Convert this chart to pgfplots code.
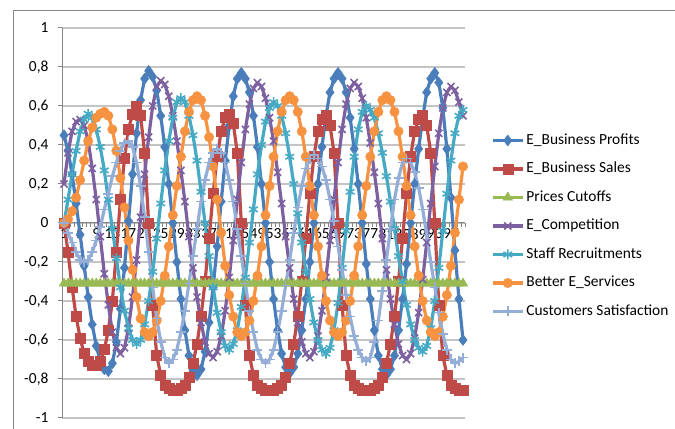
\documentclass[border=0pt]{standalone}
\usepackage{fontspec}
\setmainfont{Carlito}
\usepackage{pgfplots}
\usepackage{pgfplotstable}
\pgfplotsset{compat=1.18}
\definecolor{cB}{HTML}{4A7EBB}
\definecolor{cR}{HTML}{BE4B48}
\definecolor{cG}{HTML}{98B954}
\definecolor{cP}{HTML}{7D60A0}
\definecolor{cT}{HTML}{46AAC5}
\definecolor{cO}{HTML}{F69240}
\definecolor{cL}{HTML}{94AED8}
\definecolor{axgray}{RGB}{134,134,134}
\definecolor{gridgray}{RGB}{196,196,196}

\pgfplotstableread{
x b r g p t o l
1 0.45 0.00 -0.31 0.20 0.00 0.00 0.00
2 0.37 -0.15 -0.31 0.36 0.12 0.02 -0.05
3 0.25 -0.33 -0.31 0.47 0.25 0.06 -0.10
4 0.10 -0.48 -0.31 0.52 0.37 0.13 -0.15
5 -0.06 -0.59 -0.31 0.53 0.47 0.22 -0.19
6 -0.22 -0.67 -0.31 0.50 0.53 0.32 -0.20
7 -0.38 -0.71 -0.31 0.42 0.56 0.42 -0.19
8 -0.52 -0.73 -0.31 0.28 0.54 0.49 -0.15
9 -0.63 -0.73 -0.31 0.12 0.48 0.54 -0.09
10 -0.71 -0.71 -0.31 -0.07 0.39 0.56 -0.02
11 -0.75 -0.65 -0.31 -0.26 0.27 0.57 0.07
12 -0.76 -0.55 -0.31 -0.42 0.12 0.55 0.15
13 -0.72 -0.40 -0.31 -0.56 -0.03 0.48 0.24
14 -0.61 -0.15 -0.31 -0.64 -0.18 0.37 0.31
15 -0.44 0.12 -0.31 -0.67 -0.33 0.23 0.37
16 -0.23 0.33 -0.31 -0.64 -0.45 0.08 0.41
17 0.01 0.48 -0.31 -0.54 -0.54 -0.09 0.42
18 0.25 0.56 -0.31 -0.38 -0.60 -0.24 0.39
19 0.46 0.60 -0.31 -0.19 -0.62 -0.38 0.31
20 0.63 0.55 -0.31 0.03 -0.60 -0.49 0.19
21 0.74 0.36 -0.31 0.25 -0.52 -0.56 0.03
22 0.78 0.00 -0.31 0.44 -0.40 -0.58 -0.15
23 0.75 -0.42 -0.31 0.60 -0.25 -0.56 -0.33
24 0.68 -0.68 -0.31 0.70 -0.08 -0.50 -0.49
25 0.55 -0.78 -0.31 0.73 0.10 -0.40 -0.61
26 0.39 -0.83 -0.31 0.71 0.27 -0.27 -0.69
27 0.20 -0.85 -0.31 0.65 0.42 -0.12 -0.72
28 0.00 -0.86 -0.31 0.55 0.54 0.04 -0.70
29 -0.20 -0.86 -0.31 0.42 0.62 0.19 -0.65
30 -0.39 -0.85 -0.31 0.27 0.64 0.34 -0.56
31 -0.55 -0.83 -0.31 0.11 0.62 0.47 -0.45
32 -0.68 -0.79 -0.31 -0.07 0.55 0.57 -0.31
33 -0.75 -0.72 -0.31 -0.23 0.45 0.63 -0.17
34 -0.78 -0.62 -0.31 -0.38 0.32 0.65 -0.03
35 -0.75 -0.48 -0.31 -0.51 0.16 0.63 0.11
36 -0.66 -0.30 -0.31 -0.61 0.00 0.55 0.22
37 -0.51 -0.08 -0.31 -0.67 -0.17 0.44 0.31
38 -0.33 0.15 -0.31 -0.69 -0.33 0.29 0.36
39 -0.12 0.34 -0.31 -0.66 -0.46 0.12 0.38
40 0.11 0.47 -0.31 -0.58 -0.56 -0.05 0.36
41 0.32 0.54 -0.31 -0.45 -0.63 -0.22 0.31
42 0.50 0.56 -0.31 -0.28 -0.65 -0.37 0.22
43 0.65 0.51 -0.31 -0.09 -0.62 -0.48 0.11
44 0.74 0.36 -0.31 0.12 -0.55 -0.56 -0.03
45 0.77 0.00 -0.31 0.31 -0.43 -0.58 -0.17
46 0.74 -0.42 -0.31 0.48 -0.28 -0.56 -0.31
47 0.67 -0.68 -0.31 0.61 -0.10 -0.50 -0.45
48 0.55 -0.78 -0.31 0.69 0.07 -0.40 -0.56
49 0.39 -0.83 -0.31 0.72 0.25 -0.27 -0.65
50 0.20 -0.85 -0.31 0.70 0.40 -0.12 -0.70
51 0.00 -0.86 -0.31 0.64 0.52 0.04 -0.72
52 -0.20 -0.86 -0.31 0.54 0.59 0.19 -0.70
53 -0.39 -0.86 -0.31 0.42 0.62 0.34 -0.65
54 -0.55 -0.85 -0.31 0.26 0.60 0.47 -0.56
55 -0.67 -0.83 -0.31 0.10 0.55 0.57 -0.45
56 -0.74 -0.79 -0.31 -0.07 0.46 0.63 -0.32
57 -0.77 -0.72 -0.31 -0.23 0.34 0.65 -0.19
58 -0.74 -0.62 -0.31 -0.39 0.20 0.63 -0.05
59 -0.67 -0.48 -0.31 -0.51 0.05 0.57 0.08
60 -0.55 -0.30 -0.31 -0.61 -0.10 0.47 0.19
61 -0.39 -0.08 -0.31 -0.67 -0.25 0.34 0.28
62 -0.20 0.15 -0.31 -0.69 -0.39 0.19 0.33
63 0.00 0.34 -0.31 -0.66 -0.51 0.04 0.35
64 0.20 0.47 -0.31 -0.58 -0.60 -0.12 0.33
65 0.39 0.53 -0.31 -0.45 -0.65 -0.27 0.29
66 0.55 0.55 -0.31 -0.28 -0.67 -0.40 0.22
67 0.67 0.50 -0.31 -0.09 -0.64 -0.50 0.12
68 0.74 0.36 -0.31 0.12 -0.55 -0.56 0.01
69 0.77 0.00 -0.31 0.31 -0.41 -0.58 -0.12
70 0.74 -0.42 -0.31 0.48 -0.23 -0.56 -0.24
71 0.67 -0.68 -0.31 0.61 -0.04 -0.50 -0.37
72 0.54 -0.78 -0.31 0.69 0.16 -0.40 -0.48
73 0.38 -0.83 -0.31 0.72 0.34 -0.27 -0.58
74 0.20 -0.85 -0.31 0.70 0.48 -0.12 -0.65
75 0.00 -0.86 -0.31 0.64 0.57 0.04 -0.69
76 -0.21 -0.86 -0.31 0.54 0.60 0.19 -0.71
77 -0.39 -0.86 -0.31 0.41 0.58 0.34 -0.69
78 -0.55 -0.85 -0.31 0.26 0.54 0.47 -0.61
79 -0.68 -0.83 -0.31 0.10 0.46 0.57 -0.50
80 -0.75 -0.79 -0.31 -0.08 0.36 0.63 -0.35
81 -0.78 -0.72 -0.31 -0.24 0.24 0.65 -0.19
82 -0.75 -0.62 -0.31 -0.39 0.11 0.63 -0.03
83 -0.68 -0.48 -0.31 -0.52 -0.03 0.57 0.12
84 -0.55 -0.30 -0.31 -0.62 -0.17 0.47 0.23
85 -0.39 -0.08 -0.31 -0.68 -0.30 0.34 0.31
86 -0.21 0.15 -0.31 -0.70 -0.42 0.19 0.33
87 0.00 0.34 -0.31 -0.67 -0.52 0.04 0.31
88 0.20 0.47 -0.31 -0.59 -0.60 -0.12 0.26
89 0.38 0.53 -0.31 -0.46 -0.64 -0.27 0.18
90 0.54 0.55 -0.31 -0.29 -0.66 -0.40 0.07
91 0.67 0.50 -0.31 -0.10 -0.63 -0.50 -0.06
92 0.74 0.36 -0.31 0.10 -0.54 -0.56 -0.20
93 0.77 0.00 -0.31 0.29 -0.40 -0.58 -0.33
94 0.72 -0.42 -0.31 0.46 -0.23 -0.56 -0.46
95 0.59 -0.68 -0.31 0.59 -0.04 -0.48 -0.57
96 0.38 -0.78 -0.31 0.67 0.15 -0.37 -0.65
97 0.13 -0.83 -0.31 0.70 0.32 -0.22 -0.70
98 -0.14 -0.85 -0.31 0.68 0.46 -0.05 -0.72
99 -0.39 -0.86 -0.31 0.62 0.55 0.12 -0.71
100 -0.60 -0.86 -0.31 0.55 0.58 0.29 -0.69
}\data

\begin{document}
\begin{tikzpicture}
\useasboundingbox (0,0) rectangle (675bp,429bp);
\draw[axgray, line width=1bp] (13.5bp,0bp) -- (13.5bp,418.5bp) -- (675bp,418.5bp);
\begin{axis}[
  at={(62bp,11bp)}, anchor=south west,
  scale only axis, width=403bp, height=390bp,
  xmin=0.5, xmax=100.5, ymin=-1, ymax=1,
  axis x line*=middle, axis y line*=left,
  axis line style={draw=axgray, line width=1bp},
  xtick={1,5,...,97},
  minor xtick={0.5,1.5,...,100.5},
  major x tick style={draw=none},
  minor x tick style={draw=axgray, line width=0.6bp},
  minor tick length=4bp,
  ytick={-1,-0.8,-0.6,-0.4,-0.2,0,0.2,0.4,0.6,0.8,1},
  major y tick style={draw=axgray, line width=1bp},
  major tick length=4bp,
  tick align=outside,
  ymajorgrids,
  grid style={draw=gridgray, line width=1.3bp},
  ticklabel style={font=\fontsize{15.5}{17}\selectfont, text=black},
  /pgf/number format/assume math mode=true,
  y tick label style={/pgf/number format/fixed, /pgf/number format/use comma, xshift=-6bp},
  x tick label style={yshift=2bp},
  legend cell align=left,
  legend style={at={(1,0.5)}, anchor=west, xshift=26bp, yshift=-3bp, draw=none, fill=none,
    inner sep=0pt, row sep=10bp, font=\fontsize{15.5}{17}\selectfont,
    nodes={inner sep=2bp, text height=11bp, text depth=3.5bp}},
  legend image code/.code={\draw[mark repeat=2,mark phase=2,#1] plot coordinates {(0bp,0bp) (15bp,0bp) (30bp,0bp)};},
  every axis plot/.append style={line width=3.2bp, line join=round},
]
\addplot[cB, mark=diamond*, mark size=5.5bp, mark options={solid, line width=0.5bp, fill=cB}] table[x=x,y=b] {\data};
\addlegendentry{E\_Business Profits}
\addplot[cR, mark=square*, mark size=5bp, mark options={solid, line width=0.5bp, fill=cR}] table[x=x,y=r] {\data};
\addlegendentry{E\_Business Sales}
\addplot[cG, mark=triangle*, mark size=5.5bp, mark options={solid, line width=0.5bp, fill=cG}] table[x=x,y=g] {\data};
\addlegendentry{Prices Cutoffs}
\addplot[cP, mark=x, mark size=5bp, mark options={solid, line width=1.6bp}] table[x=x,y=p] {\data};
\addlegendentry{E\_Competition}
\addplot[cT, mark=asterisk, mark size=5bp, mark options={solid, line width=1.6bp}] table[x=x,y=t] {\data};
\addlegendentry{Staff Recruitments}
\addplot[cO, mark=*, mark size=4.7bp, mark options={solid, line width=0.5bp, fill=cO}] table[x=x,y=o] {\data};
\addlegendentry{Better E\_Services}
\addplot[cL, mark=+, mark size=5bp, mark options={solid, line width=1.6bp}] table[x=x,y=l] {\data};
\addlegendentry{Customers Satisfaction}
\end{axis}
\end{tikzpicture}
\end{document}
